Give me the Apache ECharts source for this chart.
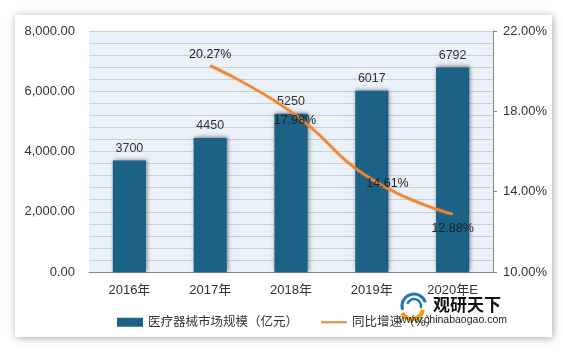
<!DOCTYPE html>
<html><head><meta charset="utf-8">
<script src="https://cdn.jsdelivr.net/npm/echarts@6/dist/echarts.min.js"></script>
<style>html,body{margin:0;padding:0;background:#fff}#c{width:563px;height:352px}</style>
</head><body><div id="c"></div>
<script>
const categories = ['2016年','2017年','2018年','2019年','2020年E'];
const marketSize = [3700, 4450, 5250, 6017, 6792];
const growthRate = [null, 20.27, 17.98, 14.61, 12.88];
const barName = '医疗器械市场规模（亿元）';
const lineName = '同比增速（%）';
const FONT = "'Liberation Sans','Noto Sans CJK SC',sans-serif";

const labelPos = [null,
  {position:'top', distance:4},
  {position:'bottom', distance:2, offset:[4,0]},
  {position:'right', distance:-6, offset:[0,4]},
  {position:'bottom', distance:8}
];

const chart = echarts.init(document.getElementById('c'));
chart.setOption({
  animation:false,
  textStyle:{fontFamily:FONT},
  graphic:[
    {type:'rect', z:-10, shape:{x:15,y:15,width:537,height:322},
     style:{fill:'#fff', shadowBlur:8, shadowColor:'rgba(0,0,0,0.35)', shadowOffsetX:1, shadowOffsetY:1}},
    {type:'arc', z:10, shape:{cx:414,cy:306,r:12,startAngle:Math.PI*0.9,endAngle:Math.PI*1.9}, style:{stroke:'#1f78b4',lineWidth:3,fill:null}},
    {type:'arc', z:10, shape:{cx:414,cy:306,r:7,startAngle:Math.PI*1.1,endAngle:Math.PI*2.1}, style:{stroke:'#1f78b4',lineWidth:2.5,fill:null}},
    {type:'arc', z:10, shape:{cx:412,cy:308,r:11,startAngle:Math.PI*0.05,endAngle:Math.PI*0.85}, style:{stroke:'#f39c12',lineWidth:4,fill:null}},
    {type:'text', z:10, left:433, top:296, style:{text:'观研天下', font:"bold 17px 'Noto Sans CJK SC'", fill:'#111'}},
    {type:'text', z:10, left:399, top:315, style:{text:'www.chinabaogao.com', font:"10.5px 'Liberation Sans'", fill:'#222'}}
  ],
  grid:{left:89, right:70, top:31, bottom:80, show:true, backgroundColor:'#EAF1F8', borderWidth:0},
  legend:{
    left:112, top:311, itemGap:22, itemWidth:26, itemHeight:9,
    textStyle:{fontSize:12.5, color:'#333', fontFamily:FONT},
    data:[{name:barName, icon:'rect'}, {name:lineName}]
  },
  xAxis:{
    type:'category', data:categories,
    axisLine:{lineStyle:{color:'#888', width:1}},
    axisTick:{show:false},
    axisLabel:{color:'#333', fontSize:13, margin:12}
  },
  yAxis:[
    {type:'value', min:0, max:8000, interval:2000,
     axisLine:{show:false}, axisTick:{show:false},
     axisLabel:{color:'#333', fontSize:13, margin:14,
       formatter:v=>v.toLocaleString('en-US',{minimumFractionDigits:2,maximumFractionDigits:2})},
     splitLine:{lineStyle:{color:'#C9D0D8', width:1}},
     minorTick:{show:false, splitNumber:5},
     minorSplitLine:{show:true, lineStyle:{color:'#C9D0D8', width:1}}
    },
    {type:'value', min:10, max:22, interval:4, position:'right',
     axisLine:{show:true, lineStyle:{color:'#888'}},
     axisTick:{show:true, inside:false, length:4, lineStyle:{color:'#888'}},
     axisLabel:{color:'#333', fontSize:13, margin:10, formatter:v=>v.toFixed(2)+'%'},
     splitLine:{show:false}
    }
  ],
  series:[
    {name:barName, type:'bar', data:marketSize, barWidth:'41%',
     itemStyle:{color:'#1B6286', shadowBlur:4, shadowColor:'rgba(0,0,0,0.45)', shadowOffsetX:1, shadowOffsetY:-1},
     label:{show:true, position:'top', distance:6, color:'#333', fontSize:12.5}
    },
    {name:lineName, type:'line', yAxisIndex:1, smooth:true, symbol:'circle', symbolSize:1, showSymbol:true,
     data:growthRate.map((v,i)=> v==null ? null : {value:v, label:Object.assign({show:true}, labelPos[i])}),
     lineStyle:{color:'#EE8631', width:2.5, shadowBlur:2, shadowColor:'rgba(238,134,49,0.6)'},
     itemStyle:{color:'rgba(0,0,0,0)', borderWidth:0},
     label:{show:true, color:'#222', fontSize:12.5, formatter:p=>p.value.toFixed(2)+'%'},
     z:5
    }
  ]
});
</script></body></html>
